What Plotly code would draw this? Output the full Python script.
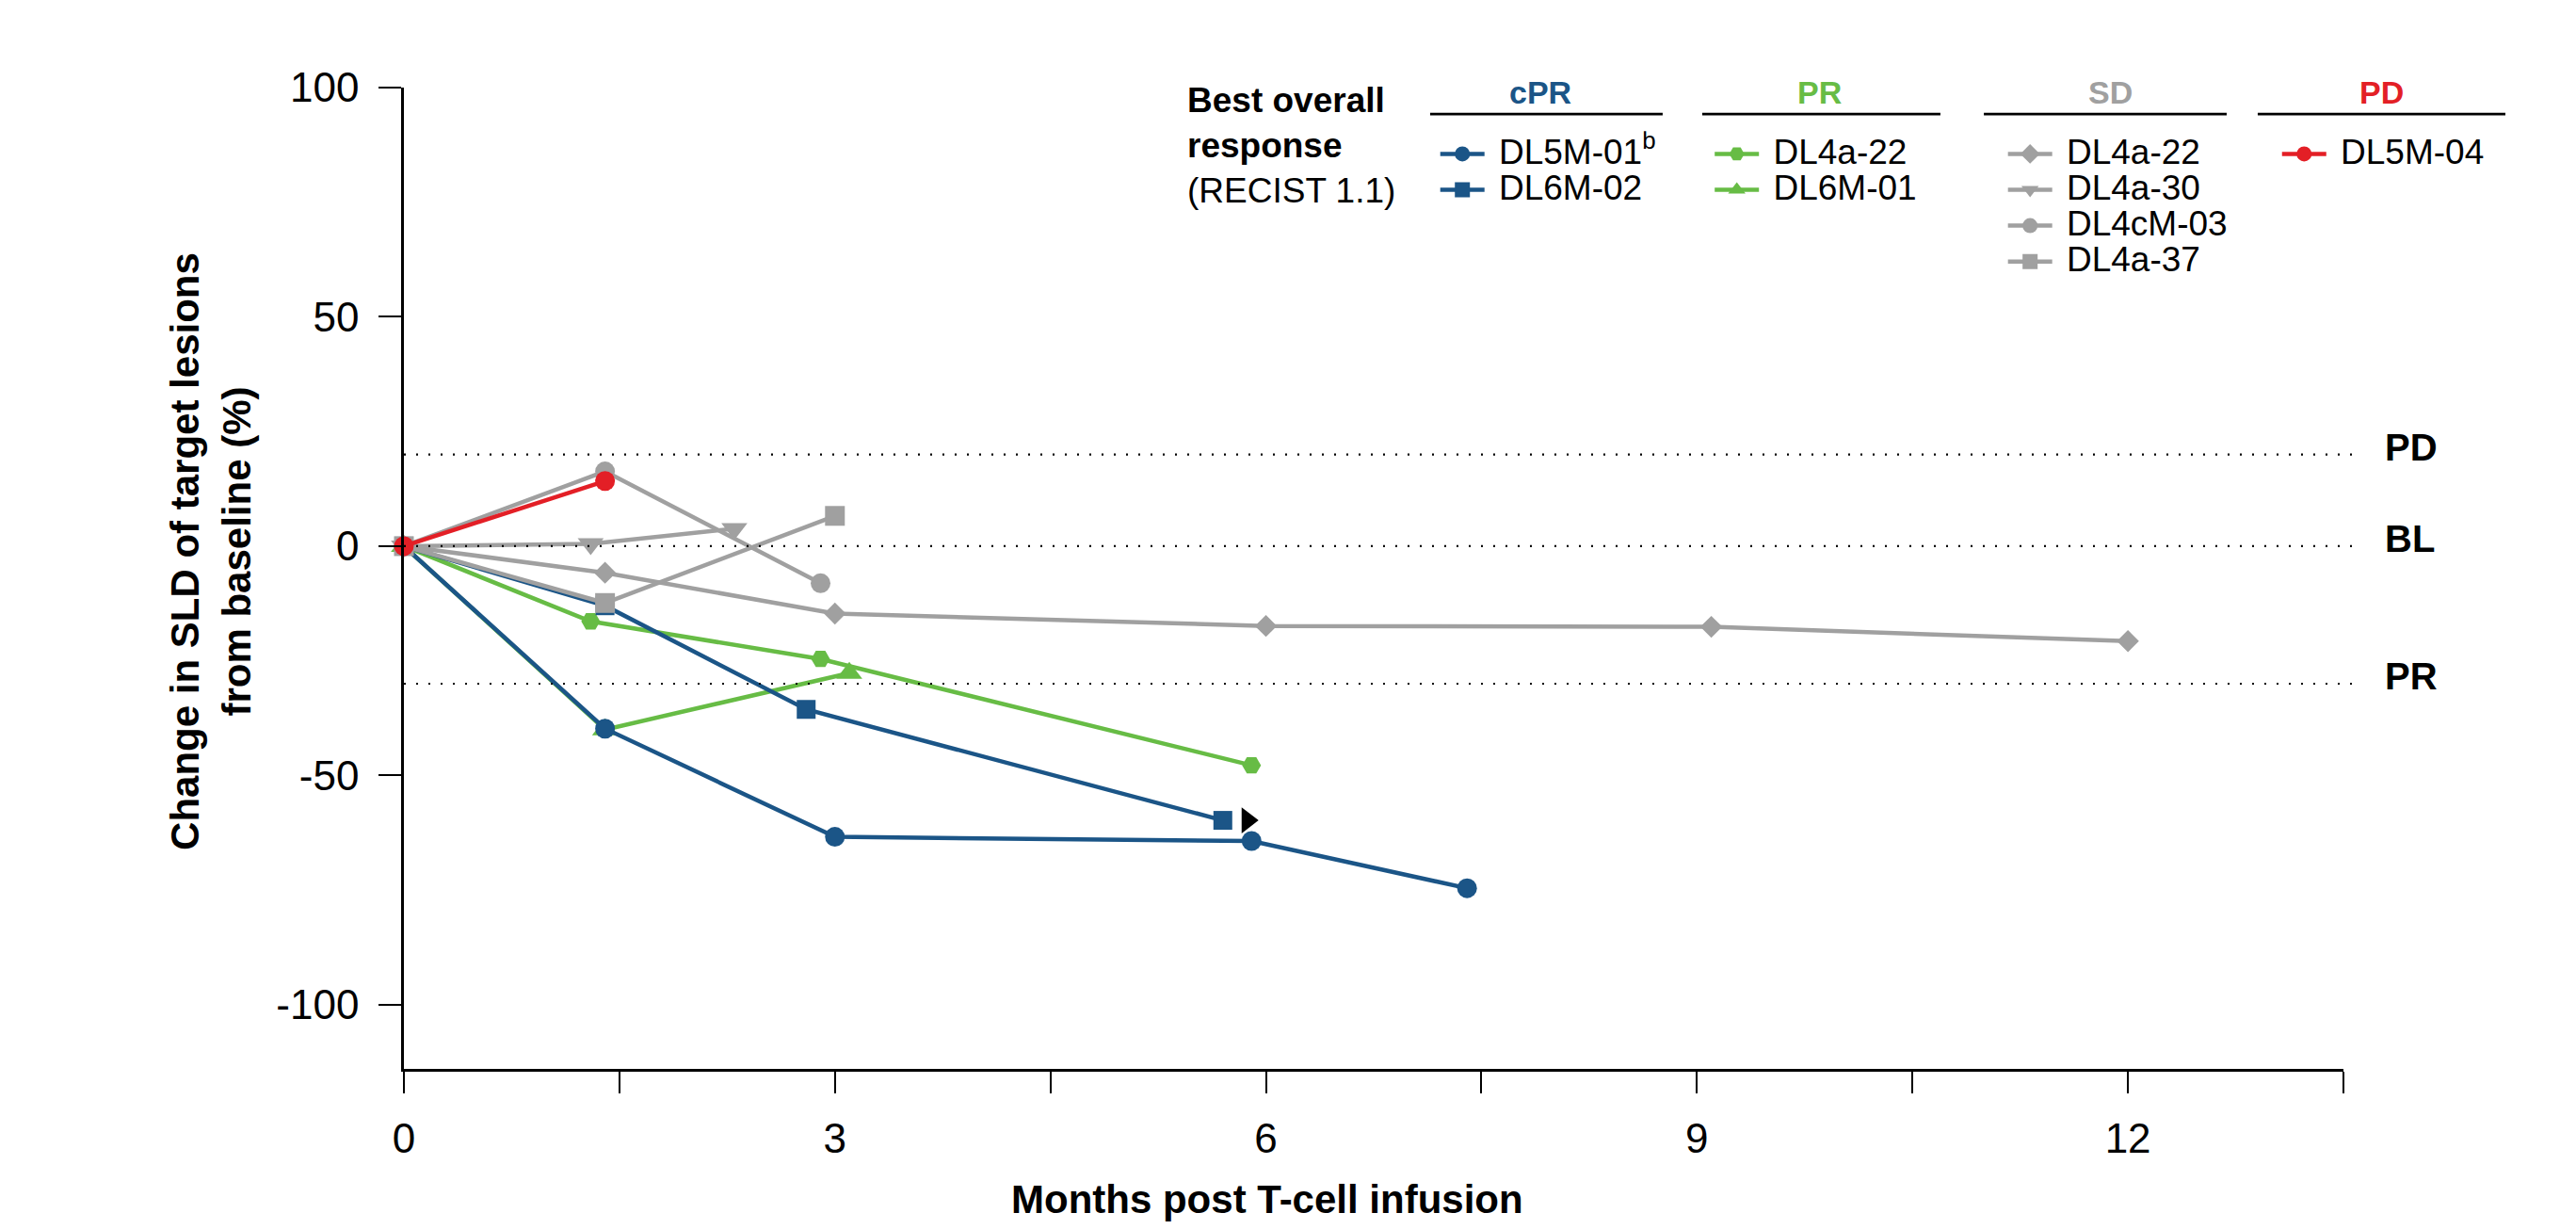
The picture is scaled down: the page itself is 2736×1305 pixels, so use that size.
import plotly.graph_objects as go

# ---------------- data ----------------
# cPR
dl5m01_months = [0, 1.4, 3.0, 5.9, 7.4]
dl5m01_change = [0, -39.8, -63.4, -64.3, -74.6]
dl6m02_months = [0, 1.4, 2.8, 5.7]
dl6m02_change = [0, -13.0, -35.6, -59.8]
# PR
pr_dl4a22_months = [0, 1.3, 2.9, 5.9]
pr_dl4a22_change = [0, -16.4, -24.6, -47.8]
dl6m01_months = [0, 1.4, 3.1]
dl6m01_change = [0, -40.0, -27.7]
# SD
sd_dl4a22_months = [0, 1.4, 3.0, 6.0, 9.1, 12.0]
sd_dl4a22_change = [0, -5.8, -14.7, -17.4, -17.6, -20.7]
dl4a30_months = [0, 1.3, 2.3]
dl4a30_change = [0, 0.5, 3.8]
dl4cm03_months = [0, 1.4, 2.9]
dl4cm03_change = [0, 16.3, -8.1]
dl4a37_months = [0, 1.4, 3.0]
dl4a37_change = [0, -12.4, 6.6]
# PD
dl5m04_months = [0, 1.4]
dl5m04_change = [0, 14.2]
# ongoing response marker (DL6M-02)
ongoing_months = [5.87]
ongoing_change = [-59.8]

threshold_values = [20, 0, -30]
threshold_labels = ["PD", "BL", "PR"]
x_tick_values = [0, 3, 6, 9, 12]
x_tick_text = ["0", "3", "6", "9", "12"]
y_tick_values = [100, 50, 0, -50, -100]
y_tick_text = ["100", "50", "0", "-50", "-100"]

# ---------------- styles ----------------
BLUE = "#1B5587"
GREEN = "#67BC45"
GRAY = "#A0A0A0"
RED = "#E31F26"
FONT = "Liberation Sans, Arial, sans-serif"
LW = 4.5

fig = go.Figure()


def add_series(x, y, name, color, symbol, size, legend):
    fig.add_trace(go.Scatter(
        x=x, y=y, mode="lines+markers",
        name='<span style="font-size:37px">&nbsp;' + name + '</span>',
        line=dict(color=color, width=LW),
        marker=dict(color=color, symbol=symbol, size=size, line=dict(width=0)),
        legend=legend, cliponaxis=False,
    ))


# drawing order: PR (green) -> cPR (blue) -> SD (gray) -> PD (red)
add_series(pr_dl4a22_months, pr_dl4a22_change, "DL4a-22", GREEN, "hexagon2", 20, "legend2")
add_series(dl6m01_months, dl6m01_change, "DL6M-01", GREEN, "triangle-up", 24, "legend2")
add_series(dl5m01_months, dl5m01_change, "DL5M-01<sup>b</sup>", BLUE, "circle", 21, "legend")
add_series(dl6m02_months, dl6m02_change, "DL6M-02", BLUE, "square", 20, "legend")
add_series(sd_dl4a22_months, sd_dl4a22_change, "DL4a-22", GRAY, "diamond", 18, "legend3")
add_series(dl4a30_months, dl4a30_change, "DL4a-30", GRAY, "triangle-down", 24, "legend3")
add_series(dl4cm03_months, dl4cm03_change, "DL4cM-03", GRAY, "circle", 21, "legend3")
add_series(dl4a37_months, dl4a37_change, "DL4a-37", GRAY, "square", 21, "legend3")
add_series(dl5m04_months, dl5m04_change, "DL5M-04", RED, "circle", 21, "legend4")

fig.add_trace(go.Scatter(
    x=ongoing_months, y=ongoing_change, mode="markers",
    marker=dict(color="black", symbol="triangle-right", size=24),
    showlegend=False, cliponaxis=False,
))

# threshold dotted lines + labels
shapes = []
annotations = []
for v, lab in zip(threshold_values, threshold_labels):
    shapes.append(dict(type="line", xref="paper", yref="y", x0=0, x1=1.0068, y0=v, y1=v,
                       line=dict(color="black", width=2.2, dash="2px,11px")))
    annotations.append(dict(xref="paper", yref="y", x=1.0204, y=v, yshift=8,
                            text="<b>" + lab + "</b>", showarrow=False,
                            xanchor="left", yanchor="middle",
                            font=dict(family=FONT, size=40, color="black")))

# legend headers with underlines
headers = [("cPR", BLUE, 0.586, 0.5291, 0.6490),
           ("PR", GREEN, 0.730, 0.6694, 0.7922),
           ("SD", GRAY, 0.880, 0.8146, 0.9398),
           ("PD", RED, 1.0199, 0.9558, 1.0835)]
for txt, col, xc, x0, x1 in headers:
    annotations.append(dict(xref="paper", yref="paper", x=xc, y=0.9948,
                            text="<b>" + txt + "</b>", showarrow=False,
                            xanchor="center", yanchor="middle",
                            font=dict(family=FONT, size=34, color=col)))
    shapes.append(dict(type="line", xref="paper", yref="paper", x0=x0, x1=x1,
                       y0=0.9731, y1=0.9731, line=dict(color="black", width=2.8)))

annotations.append(dict(xref="paper", yref="paper", x=0.4029, y=1.0087,
                        text="<b>Best overall<br>response</b><br>(RECIST 1.1)",
                        showarrow=False, xanchor="left", yanchor="top", align="left",
                        font=dict(family=FONT, size=37, color="black")))

# axis titles
annotations.append(dict(xref="paper", yref="paper", x=-0.0995, y=0.527,
                        text="<b>Change in SLD of target lesions<br>from baseline (%)</b>",
                        textangle=-90, showarrow=False, xanchor="center", yanchor="middle",
                        font=dict(family=FONT, size=42, color="black")))
annotations.append(dict(xref="paper", yref="paper", x=0.445, y=-0.1325,
                        text="<b>Months post T-cell infusion</b>",
                        showarrow=False, xanchor="center", yanchor="middle",
                        font=dict(family=FONT, size=42, color="black")))

legend_common = dict(font=dict(family=FONT, size=27, color="black"),
                     bgcolor="rgba(0,0,0,0)", borderwidth=0,
                     xanchor="left", yanchor="top", itemwidth=47,
                     tracegroupgap=0, orientation="v")

fig.update_layout(
    width=2736, height=1305,
    margin=dict(l=429, r=247, t=93, b=170),
    paper_bgcolor="white", plot_bgcolor="white",
    font=dict(family=FONT, color="black"),
    shapes=shapes, annotations=annotations,
    showlegend=True,
    legend=dict(x=0.5319, y=0.9555, **legend_common),
    legend2=dict(x=0.6734, y=0.9555, **legend_common),
    legend3=dict(x=0.8246, y=0.9555, **legend_common),
    legend4=dict(x=0.9659, y=0.9555, **legend_common),
    xaxis=dict(range=[0, 13.5], tickvals=x_tick_values, ticktext=x_tick_text,
               ticks="outside", ticklen=23,
               tickwidth=2, tickcolor="black", showline=True, linecolor="black",
               linewidth=2.5, showgrid=False, zeroline=False,
               minor=dict(dtick=1.5, tick0=0, ticks="outside", ticklen=23, tickwidth=2,
                          tickcolor="black", showgrid=False),
               tickfont=dict(family=FONT, size=44, color="black"), ticklabelstandoff=10),
    yaxis=dict(range=[-114, 100], tickvals=y_tick_values, ticktext=y_tick_text,
               ticks="outside", ticklen=24,
               tickwidth=2, tickcolor="black", showline=True, linecolor="black",
               linewidth=2.5, showgrid=False, zeroline=False,
               tickfont=dict(family=FONT, size=44, color="black"), ticklabelstandoff=12),
)

fig.write_html("out.html", config={"displayModeBar": False},
               post_script="document.body.style.margin='0';document.body.style.overflow='hidden';")
